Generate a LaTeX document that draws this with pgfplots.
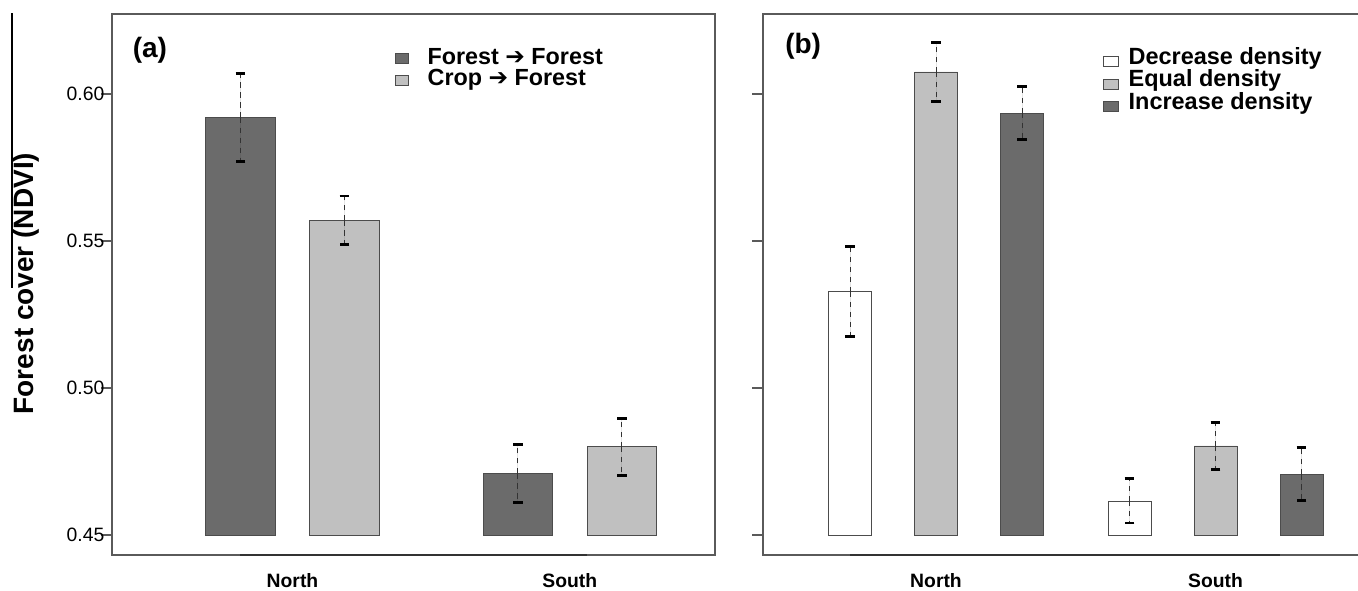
\documentclass[border=0pt]{standalone}
\usepackage{fontspec}
\setmainfont{Liberation Sans}
\newfontfamily\djv{DejaVu Sans}
\usepackage{pgfplots}
\pgfplotsset{compat=1.18}
\definecolor{darkbar}{HTML}{6B6B6B}
\definecolor{lightbar}{HTML}{C0C0C0}
\definecolor{framec}{HTML}{5A5A5A}
\newcommand{\arr}{{\djv\char"2794}}

\pgfplotsset{
  panel/.style={
    scale only axis, width=452.25pt, height=405.75pt,
    ymin=0.4432, ymax=0.6272,
    y coord trafo/.code={\pgfmathparse{##1-0.45}},
    y coord inv trafo/.code={\pgfmathparse{##1+0.45}},
    ytick={0.45,0.50,0.55,0.60},
    ytick align=outside, ytick pos=left, major tick length=8.25pt,
    xtick align=inside,
    tick style={framec, line width=0.9pt},
    xtick style={draw=none},
    axis line style={framec, line width=0.9pt},
    xtick={2.75,6.75},
    xticklabel style={font=\fontsize{14.5}{16}\selectfont\bfseries, yshift=-10pt},
    yticklabel style={font=\fontsize{14.5}{16}\selectfont, xshift=6pt},
    /pgf/number format/assume math mode=true,
    legend cell align=left,
    clip=false,
  },
  errs/.style={error bars/.cd, y dir=both, y explicit,
    error bar style={dash pattern=on 4pt off 3.5pt, line width=0.75pt, black!80},
    error mark options={solid, rotate=90, line width=2.2pt, mark size=3.6pt, black}},
}

\begin{document}
\begin{tikzpicture}
% stray rule at the left edge of the reference
\draw[line width=0.8pt] (9pt,-9.75pt) -- (9pt,-216pt);

\begin{axis}[panel, at={(84pt,-416.25pt)}, anchor=south west,
  xmin=0.147, xmax=8.844,
  xticklabels={North,South},
  yticklabels={0.45,0.50,0.55,0.60},
  ylabel={Forest cover (NDVI)},
  ylabel style={font=\fontsize{21}{24}\selectfont\bfseries, at={(axis description cs:-0.142,0.5018)}, anchor=center},
  legend style={at={(rel axis cs:0.4693,0.938)}, anchor=north west, draw=none, fill=none,
    inner sep=0pt, font=\fontsize{17.5}{19}\selectfont\bfseries,
    nodes={inner xsep=0pt, inner ysep=0pt, text height=12.5pt, text depth=3.6pt}},
  legend image code/.code={\draw[#1, solid, draw=black!70, line width=0.6pt] (0pt,-4pt) rectangle (9.75pt,3.5pt); \path[draw=none, fill=none] (0pt,0pt) rectangle (24pt,0.1pt);},
]
\addplot[ybar, bar width=1, bar shift=0pt, fill=darkbar, draw=black!70, line width=0.6pt, errs]
  coordinates {(2,0.592) +- (0,0.015) (6,0.471) +- (0,0.0099)};
\addlegendentry{Forest \arr\ Forest}
\addplot[ybar, bar width=1, bar shift=0pt, fill=lightbar, draw=black!70, line width=0.6pt, errs]
  coordinates {(3.5,0.557) +- (0,0.0083) (7.5,0.480) +- (0,0.0097)};
\addlegendentry{Crop \arr\ Forest}
\draw[line width=1.5pt, black!80] (axis cs:2,0.4432) -- (axis cs:7,0.4432);
\node[anchor=west, inner sep=0pt, font=\fontsize{21}{24}\selectfont\bfseries] at (rel axis cs:0.034,0.9335) {(a)};
\end{axis}

\begin{axis}[panel, at={(572.25pt,-416.25pt)}, anchor=south west,
  xmin=-0.023, xmax=14.0,
  xticklabels={North,South},
  xtick={4,10.5},
  yticklabels={},
  legend style={at={(rel axis cs:0.5638,0.9385)}, anchor=north west, draw=none, fill=none,
    inner sep=0pt, font=\fontsize{17.6}{19}\selectfont\bfseries,
    nodes={inner xsep=0pt, inner ysep=0pt, text height=12.5pt, text depth=4.4pt}},
  legend image code/.code={\draw[#1, solid, draw=black!70, line width=0.6pt] (0pt,-6pt) rectangle (11pt,1.5pt); \path[draw=none, fill=none] (0pt,0pt) rectangle (18.75pt,0.1pt);},
]
\addplot[ybar, bar width=1, bar shift=0pt, fill=white, draw=black!70, line width=0.6pt, errs]
  coordinates {(2,0.5327) +- (0,0.0153) (8.5,0.4616) +- (0,0.0075)};
\addlegendentry{Decrease density}
\addplot[ybar, bar width=1, bar shift=0pt, fill=lightbar, draw=black!70, line width=0.6pt, errs]
  coordinates {(4,0.6075) +- (0,0.0100) (10.5,0.4803) +- (0,0.0080)};
\addlegendentry{Equal density}
\addplot[ybar, bar width=1, bar shift=0pt, fill=darkbar, draw=black!70, line width=0.6pt, errs]
  coordinates {(6,0.5935) +- (0,0.0089) (12.5,0.4707) +- (0,0.0090)};
\addlegendentry{Increase density}
\draw[line width=1.5pt, black!80] (axis cs:2,0.4432) -- (axis cs:12,0.4432);
\node[anchor=west, inner sep=0pt, font=\fontsize{21}{24}\selectfont\bfseries] at (rel axis cs:0.0365,0.941) {(b)};
\end{axis}

\pgfresetboundingbox
\useasboundingbox (0pt,0pt) rectangle (1018.5pt,-442.5pt);
\end{tikzpicture}
\end{document}
